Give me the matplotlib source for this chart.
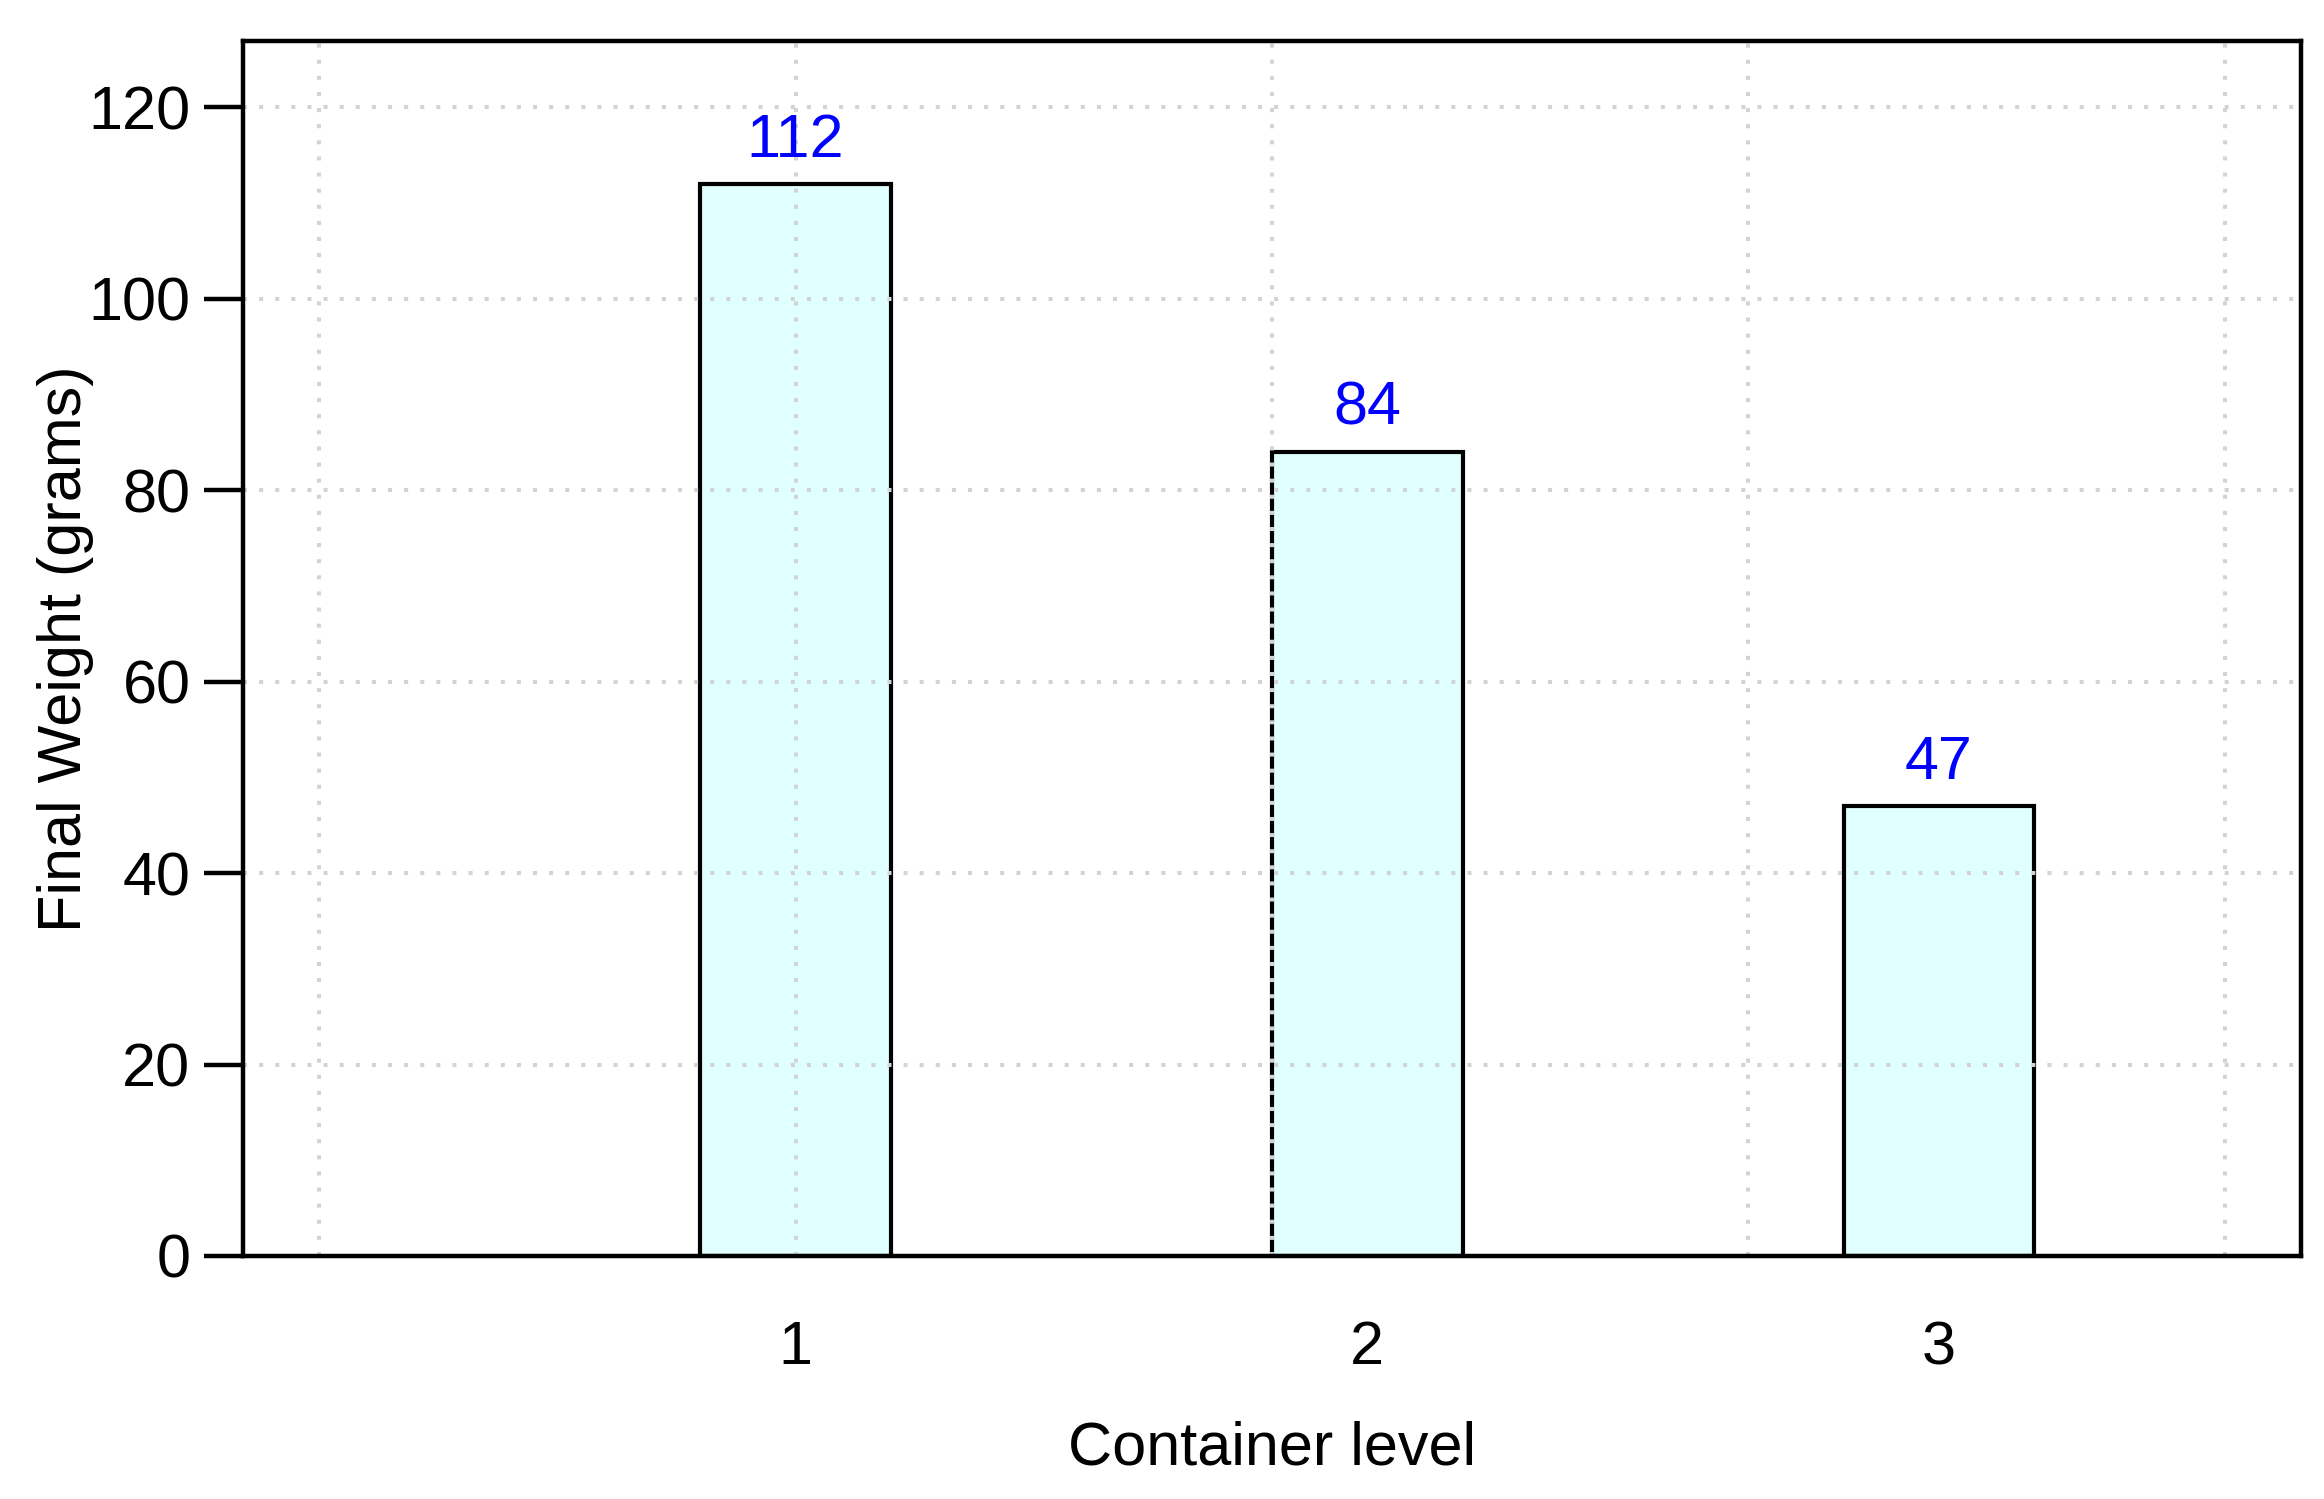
import numpy as np
import matplotlib
matplotlib.use("Agg")
import matplotlib.pyplot as plt

# data
levels = ["1", "2", "3"]
weights = [112, 84, 47]
bar_pos = [2.5, 5.5, 8.5]      # bar centres (R barplot, space=2)
xgrid = [0, 2.5, 5, 7.5, 10]
yticks = [0, 20, 40, 60, 80, 100, 120]

plt.rcParams['font.family'] = ['Liberation Sans', 'DejaVu Sans']
fs = 22

fig = plt.figure(figsize=(11.62, 7.495), dpi=200)
ax = fig.add_axes([0.10456, 0.16211, 0.88554, 0.81054])

ax.bar(bar_pos, weights, width=1.0, color='#E0FFFF', edgecolor='black',
       linewidth=1.5, zorder=2)

# dotted light grey grid, drawn over the bars like R's grid()
dots = (0, (1, 3))
for gx in xgrid:
    ax.axvline(gx, color='#D3D3D3', lw=1.45, ls=dots, zorder=3)
for gy in yticks:
    ax.axhline(gy, color='#D3D3D3', lw=1.45, ls=dots, zorder=3)

for x, w in zip(bar_pos, weights):
    ax.annotate(str(w), (x, w), xytext=(0, 9.7), textcoords='offset points',
                ha='center', va='baseline', color='#0000FF', fontsize=fs,
                zorder=4)

ax.set_xlim(-0.4, 10.4)
ax.set_ylim(0, 126.9)

ax.set_xticks(bar_pos)
ax.set_xticklabels(levels)
ax.set_yticks(yticks)
ax.tick_params(axis='x', length=0, pad=23.2, labelsize=fs)
ax.tick_params(axis='y', length=14, width=1.6, pad=4.9, labelsize=fs,
               direction='out')

for s in ax.spines.values():
    s.set_linewidth(1.6)
    s.set_color('black')
    s.set_zorder(5)

fig.text(0.5473, 0.0233, "Container level", ha='center', va='baseline',
         fontsize=fs)
fig.text(0.028, 0.5674, "Final Weight (grams)", rotation=90, ha='center',
         va='center', fontsize=fs)

fig.savefig("out.png", dpi=200)
